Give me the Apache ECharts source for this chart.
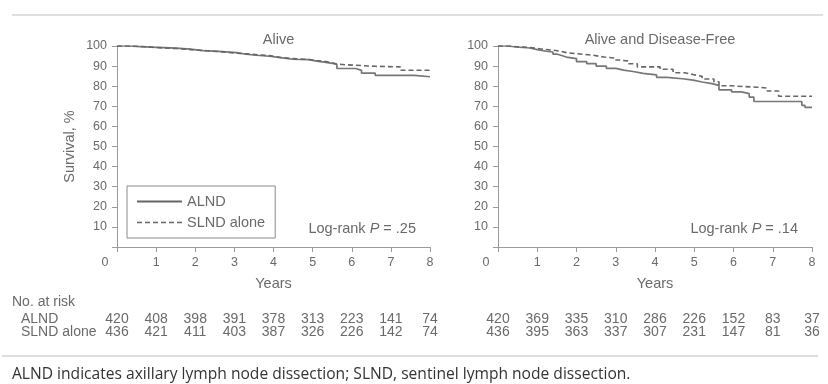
<!DOCTYPE html>
<html>
<head>
<meta charset="utf-8">
<script src="https://cdn.jsdelivr.net/npm/echarts@6/dist/echarts.min.js"></script>
<style>html,body{margin:0;padding:0;background:#fff;}#c{width:828px;height:384px;}</style>
</head>
<body>
<div id="c"></div>
<script>
// ---- Data ----
const years = [0, 1, 2, 3, 4, 5, 6, 7, 8];
const yTicks = [0, 10, 20, 30, 40, 50, 60, 70, 80, 90, 100];
const panelTitles = ['Alive', 'Alive and Disease-Free'];
const seriesNames = ['ALND', 'SLND alone'];
const pValues = ['.25', '.14'];

// Kaplan-Meier step points [years, survival %]
const aliveALND = [[0,100],[0.3,99.7],[0.6,99.4],[0.85,99.2],[1.2,98.9],[1.5,98.4],[1.87,97.7],[2.2,97.3],[2.6,96.7],[3.06,95.9],[3.3,95.4],[3.57,94.9],[3.9,94.2],[4.17,93.4],[4.5,93.2],[4.9,92.5],[5.1,92.0],[5.3,91.4],[5.5,90.8],[5.62,88.8],[6.1,87.9],[6.25,86.5],[6.6,85.4],[7.6,84.7],[8,84.7]];
const aliveSLND = [[0,100],[0.4,99.6],[0.8,99.0],[1.2,98.7],[1.6,98.2],[1.9,97.6],[2.3,97.1],[2.7,96.5],[3.0,96.1],[3.3,95.6],[3.6,95.2],[3.9,94.3],[4.2,93.6],[4.6,93.3],[4.9,92.8],[5.1,92.4],[5.3,91.6],[5.5,91.0],[5.62,90.6],[5.9,89.9],[6.6,89.6],[7.24,87.9],[8,87.9]];
const dfsALND = [[0,100],[0.25,99.5],[0.47,99.0],[0.81,98.2],[1.0,97.4],[1.23,97.0],[1.4,96.0],[1.49,95.4],[1.6,94.5],[1.74,93.7],[2.0,92.2],[2.26,91.2],[2.5,90.0],[2.76,88.9],[3.0,88.0],[3.2,87.3],[3.44,86.4],[3.7,85.6],[4.04,84.4],[4.3,83.7],[4.7,83.0],[4.97,82.1],[5.2,81.3],[5.45,80.4],[5.63,78.2],[5.95,77.2],[6.2,76.3],[6.4,74.6],[6.52,72.4],[7.74,70.5],[7.82,69.5],[8,69.5]];
const dfsSLND = [[0,100],[0.3,99.6],[0.47,99.3],[0.8,98.6],[1.06,97.9],[1.4,97.4],[1.6,96.7],[1.74,96.2],[2.0,95.4],[2.42,94.5],[2.7,94.0],[3.0,93.0],[3.1,92.6],[3.3,91.2],[3.55,89.6],[4.13,88.4],[4.46,86.7],[4.75,85.8],[4.97,84.9],[5.2,83.6],[5.5,82.2],[5.63,80.2],[5.91,79.5],[6.6,79.1],[6.86,77.6],[7.15,75.0],[8,75.0]];

// Numbers at risk
const riskAliveALND = [420, 408, 398, 391, 378, 313, 223, 141, 74];
const riskAliveSLND = [436, 421, 411, 403, 387, 326, 226, 142, 74];
const riskDfsALND   = [420, 369, 335, 310, 286, 226, 152, 83, 37];
const riskDfsSLND   = [436, 395, 363, 337, 307, 231, 147, 81, 36];
const riskLabels = ['No. at risk', 'ALND', 'SLND alone'];
const footnote = 'ALND indicates axillary lymph node dissection; SLND, sentinel lymph node dissection.';

// ---- Chart ----
const FONT = '"Liberation Sans", Arial, sans-serif';
const TXT = '#6a6a6a';
const AX = '#9a9a9a';
const chart = echarts.init(document.getElementById('c'), null, {renderer: 'canvas'});

const SOLID_ICON = 'path://M0,0 L45,0 L45,2 L0,2 Z';
const DASH_ICON = 'path://M0,0h5v1.6h-5z M8,0h5v1.6h-5z M16,0h5v1.6h-5z M24,0h5v1.6h-5z M32,0h5v1.6h-5z M40,0h5v1.6h-5z';

function xAxisDef(gi) {
  return {
    type: 'value', gridIndex: gi, min: 0, max: 8, interval: 1,
    name: 'Years', nameLocation: 'middle', nameGap: 29,
    nameTextStyle: {fontFamily: FONT, fontSize: 14.5, color: TXT},
    axisLine: {show: true, onZero: false, lineStyle: {color: AX, width: 1}},
    axisTick: {show: true, length: 5, lineStyle: {color: AX}},
    splitLine: {show: false},
    axisLabel: {
      margin: 9, fontFamily: FONT, fontSize: 12.5, color: TXT,
      formatter: v => v === 0 ? '{z|0}' : String(v),
      rich: {z: {fontFamily: FONT, fontSize: 12.5, color: TXT, padding: [0, 24, 0, 0]}}
    }
  };
}
function yAxisDef(gi, withName) {
  return {
    type: 'value', gridIndex: gi, min: 0, max: 100, interval: 10,
    name: withName ? 'Survival, %' : '', nameLocation: 'middle', nameGap: 40,
    nameTextStyle: {fontFamily: FONT, fontSize: 14.5, color: TXT},
    axisLine: {show: true, lineStyle: {color: AX, width: 1}},
    axisTick: {show: true, length: 5, lineStyle: {color: AX}},
    splitLine: {show: false},
    axisLabel: {margin: 10, fontFamily: FONT, fontSize: 12.5, color: TXT,
      formatter: v => v === 0 ? '' : String(v)}
  };
}
function lineSeries(name, data, gi, dashed) {
  return {
    name: name, type: 'line', xAxisIndex: gi, yAxisIndex: gi,
    data: data, step: 'end', symbol: 'none', silent: true, animation: false,
    lineStyle: dashed ? {color: '#666', width: 1.6, type: [5, 3]} : {color: '#777', width: 1.7, type: 'solid'},
    itemStyle: {color: dashed ? '#666' : '#777'}
  };
}

const option = {
  animation: false,
  backgroundColor: '#ffffff',
  title: [
    {text: panelTitles[0], left: 273.5, top: 27, textAlign: 'center',
     textStyle: {fontFamily: FONT, fontSize: 14.5, fontWeight: 'normal', color: TXT}},
    {text: panelTitles[1], left: 655, top: 27, textAlign: 'center',
     textStyle: {fontFamily: FONT, fontSize: 14.5, fontWeight: 'normal', color: TXT}}
  ],
  grid: [
    {left: 117, top: 46, width: 313, height: 201},
    {left: 498, top: 46, width: 314, height: 201}
  ],
  xAxis: [xAxisDef(0), xAxisDef(1)],
  yAxis: [yAxisDef(0, true), yAxisDef(1, false)],
  legend: {
    orient: 'vertical', left: 127, top: 186,
    padding: [8, 10, 8, 10], itemGap: 6, itemWidth: 45, itemHeight: 14,
    borderColor: '#8a8a8a', borderWidth: 1, backgroundColor: '#fff',
    selectedMode: false,
    textStyle: {fontFamily: FONT, fontSize: 14.5, color: TXT},
    data: [
      {name: seriesNames[0], icon: SOLID_ICON, itemStyle: {color: '#666'}},
      {name: seriesNames[1], icon: DASH_ICON, itemStyle: {color: '#666'}}
    ]
  },
  series: [
    lineSeries(seriesNames[0], aliveALND, 0, false),
    lineSeries(seriesNames[1], aliveSLND, 0, true),
    lineSeries(seriesNames[0], dfsALND, 1, false),
    lineSeries(seriesNames[1], dfsSLND, 1, true)
  ]
};
chart.setOption(option);

// ---- Extra text: log-rank, risk table, rules, footnote ----
const g = [];
function logrank(x, p) {
  return {type: 'text', x: x, y: 229, silent: true,
    style: {text: 'Log-rank {i|P} = ' + p, align: 'right', verticalAlign: 'middle',
      font: '14.5px ' + FONT, fill: TXT,
      rich: {i: {fontStyle: 'italic', fontFamily: FONT, fontSize: 14.5, fill: TXT}}}};
}
const pRight0 = chart.convertToPixel({xAxisIndex: 0}, 8) - 14;
const pRight1 = chart.convertToPixel({xAxisIndex: 1}, 8) - 14;
g.push(logrank(pRight0, pValues[0]));
g.push(logrank(pRight1, pValues[1]));

const rowY = [302, 319, 332];
g.push({type: 'text', x: 12, y: rowY[0], silent: true,
  style: {text: riskLabels[0], verticalAlign: 'middle', font: '14px ' + FONT, fill: TXT}});
g.push({type: 'text', x: 21, y: rowY[1], silent: true,
  style: {text: riskLabels[1], verticalAlign: 'middle', font: '14px ' + FONT, fill: TXT}});
g.push({type: 'text', x: 21, y: rowY[2], silent: true,
  style: {text: riskLabels[2], verticalAlign: 'middle', font: '14px ' + FONT, fill: TXT}});
const tables = [[0, riskAliveALND, riskAliveSLND], [1, riskDfsALND, riskDfsSLND]];
tables.forEach(([ai, r1, r2]) => {
  years.forEach((yr, i) => {
    const px = chart.convertToPixel({xAxisIndex: ai}, yr);
    g.push({type: 'text', x: px, y: rowY[1], silent: true,
      style: {text: String(r1[i]), align: 'center', verticalAlign: 'middle', font: '14px ' + FONT, fill: TXT}});
    g.push({type: 'text', x: px, y: rowY[2], silent: true,
      style: {text: String(r2[i]), align: 'center', verticalAlign: 'middle', font: '14px ' + FONT, fill: TXT}});
  });
});
// rules
g.push({type: 'line', silent: true, shape: {x1: 12, y1: 15, x2: 823, y2: 15}, style: {stroke: '#bdbdbd', lineWidth: 1.2}});
g.push({type: 'line', silent: true, shape: {x1: 2, y1: 356, x2: 818, y2: 356}, style: {stroke: '#bdbdbd', lineWidth: 1.2}});
// footnote
g.push({type: 'text', x: 12, y: 375, silent: true,
  style: {text: footnote, verticalAlign: 'middle', font: '15.6px "Open Sans", "Liberation Sans", sans-serif', fill: '#333'}});

chart.setOption({graphic: g});
</script>
</body>
</html>
